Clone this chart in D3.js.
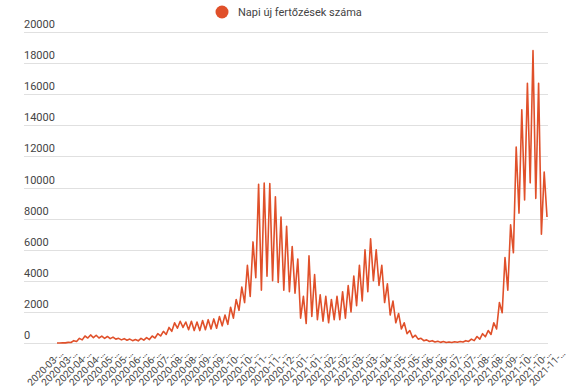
<!DOCTYPE html>
<html>
<head>
<meta charset="utf-8">
<script src="https://cdnjs.cloudflare.com/ajax/libs/d3/7.8.5/d3.min.js"></script>
<style>
	body{ margin:0; background:#fff; }
	text{ font-family: Roboto, "Noto Sans", Arial, sans-serif; }
</style>
</head>
<body>
<div id="chart"></div>
<script>
"use strict";

//********************************* DATA *********************************
var seriesName = "Napi új fertőzések száma";
var firstDay = "2020-03-02";		//date of the first value
var stepDays = 3.5;					//values are half a week apart (weekly high, weekly low, ...)

//daily new cases, one value every half week
var cases = [
	3, 2, 10, 8, 40, 30, 150, 100,							//2020-03
	300, 200, 450, 320, 520, 340, 500, 320,					//2020-04
	440, 300, 420, 280, 380, 250, 300, 200,					//2020-05
	280, 180, 250, 150, 220, 140, 300, 180,					//2020-06
	350, 220, 450, 320, 600, 450, 750, 550,					//2020-07
	1000, 750, 1300, 950, 1400, 1000, 1350, 850,			//2020-08
	1400, 800, 1350, 800, 1450, 850, 1500, 900,				//2020-09
	1550, 950, 1700, 1100, 1800, 1200, 2300, 1600,			//2020-10
	2800, 2100, 3600, 2600, 5000, 3000, 6500, 4200,			//2020-10/11
	10200, 3400, 10280, 4300, 10250, 4000, 9400, 3900,		//2020-11
	8100, 3400, 7500, 3300, 6200, 3200, 5400, 1600,			//2020-12
	3000, 1250, 5600, 1700, 4400, 1500, 3100, 1400,			//2021-01
	3000, 1300, 2800, 1500, 3000, 1500, 3300, 1600,			//2021-02
	3700, 2000, 4300, 2400, 5000, 2700, 6000, 3300,			//2021-03
	6700, 4000, 6000, 3700, 5000, 2600, 3800, 1800,			//2021-04
	2700, 1300, 1900, 900, 1300, 600, 800, 350,				//2021-05
	500, 250, 300, 150, 200, 100, 150, 60,					//2021-06
	110, 40, 90, 30, 70, 30, 80, 50,						//2021-07
	100, 60, 150, 100, 250, 150, 420, 250,					//2021-08
	600, 400, 800, 550, 1300, 900, 2600, 1950,				//2021-09
	5500, 3400, 7600, 5800, 12600, 8350, 15000, 9200,		//2021-10
	16700, 10300, 18800, 9300, 16700, 7000, 11000, 8100		//2021-10/11
];

var yTicks = [0, 2000, 4000, 6000, 8000, 10000, 12000, 14000, 16000, 18000, 20000];

//category labels shown under the axis (every 17th day)
var xLabels = [
	"2020-03-03", "2020-03-20", "2020-04-06", "2020-04-23", "2020-05-10", "2020-05-27",
	"2020-06-13", "2020-06-30", "2020-07-17", "2020-08-03", "2020-08-20", "2020-09-06",
	"2020-09-23", "2020-10-10", "2020-10-27", "2020-11-13", "2020-11-30", "2020-12-17",
	"2021-01-03", "2021-01-20", "2021-02-06", "2021-02-23", "2021-03-12", "2021-03-29",
	"2021-04-15", "2021-05-02", "2021-05-19", "2021-06-05", "2021-06-22", "2021-07-09",
	"2021-07-26", "2021-08-12", "2021-08-29", "2021-09-15", "2021-10-02", "2021-10-19",
	"2021-11-05"
];

//********************************* CHART *********************************
var width = 575, height = 389;
var lineColor = "#e0502a";
var textColor = "#444";

var parseDay = d3.timeParse("%Y-%m-%d");
var start = parseDay(firstDay);
var points = cases.map(function(v, i){
	return { date: d3.timeHour.offset(start, i * stepDays * 24), value: v };
});

var svg = d3.select("#chart")
			.append("svg")
			.attr("width", width)
			.attr("height", height);

var x = d3.scaleTime()
			.domain([start, points[points.length - 1].date])
			.range([57, 547]);

var y = d3.scaleLinear()
			.domain([0, 20000])
			.range([343, 32]);

//label positions: the category labels are spread a bit wider than the data
var xl = d3.scalePoint()
			.domain(xLabels)
			.range([64, 566]);

//gridlines + y labels (labels sit above their line, left aligned)
var grid = svg.append("g");
grid.selectAll("line")
	.data(yTicks)
	.enter()
		.append("line")
		.attr("x1", 24)
		.attr("x2", 548)
		.attr("y1", function(d){ return Math.round(y(d)) + 0.5; })
		.attr("y2", function(d){ return Math.round(y(d)) + 0.5; })
		.attr("stroke", "#e0e0e0")
		.attr("stroke-width", 1);

grid.selectAll("text")
	.data(yTicks)
	.enter()
		.append("text")
		.attr("x", 24)
		.attr("y", function(d){ return y(d) - 4; })
		.attr("font-size", 11)
		.attr("fill", textColor)
		.text(function(d){ return d; });

//slanted, truncated x labels
svg.append("g")
	.selectAll("text")
	.data(xLabels)
	.enter()
		.append("text")
		.attr("transform", function(d){
			return "translate(" + xl(d) + ",354) rotate(-45)";
		})
		.attr("text-anchor", "end")
		.attr("font-size", 10)
		.attr("fill", textColor)
		.text(function(d){ return d.slice(0, 8) + "…"; });

//the series
var line = d3.line()
			.x(function(d){ return x(d.date); })
			.y(function(d){ return y(d.value); });

svg.append("path")
	.datum(points)
	.attr("d", line)
	.attr("fill", "none")
	.attr("stroke", lineColor)
	.attr("stroke-width", 1.6)
	.attr("stroke-linejoin", "round");

//legend
var legend = svg.append("g");
legend.append("circle")
	.attr("cx", 222)
	.attr("cy", 12)
	.attr("r", 6.5)
	.attr("fill", lineColor);
legend.append("text")
	.attr("x", 238)
	.attr("y", 16)
	.attr("font-size", 11)
	.attr("fill", textColor)
	.text(seriesName);
</script>
</body>
</html>
